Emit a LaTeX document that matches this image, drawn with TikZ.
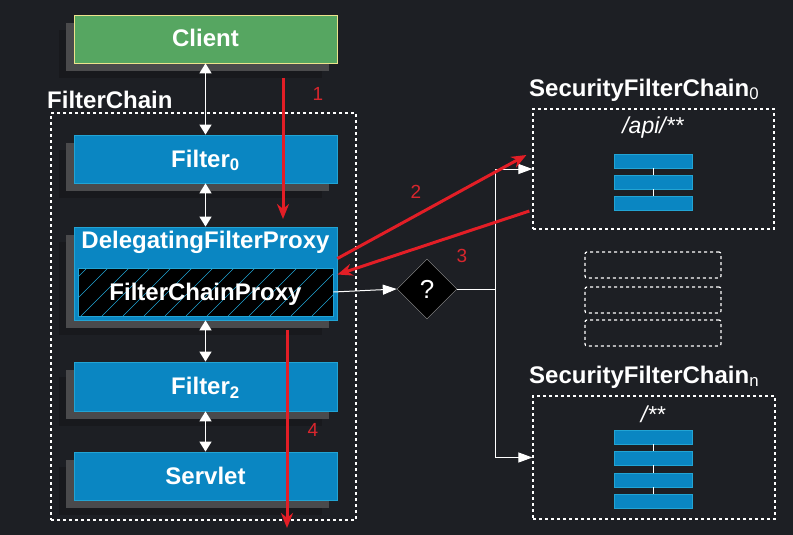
\documentclass[tikz,border=0pt]{standalone}
\usepackage{fontspec}
\setmainfont{Liberation Sans}
\usetikzlibrary{arrows.meta,shapes.geometric,shadows,positioning}
\definecolor{bgdark}{HTML}{1D1F24}
\definecolor{farshade}{HTML}{18191D}
\definecolor{nearshade}{HTML}{4A4A4C}
\definecolor{clientgreen}{HTML}{56A661}
\definecolor{clientline}{HTML}{EDE38C}
\definecolor{filterblue}{HTML}{0A86C2}
\definecolor{filterline}{HTML}{22A4D4}
\definecolor{flowred}{HTML}{E31E26}
\definecolor{numred}{HTML}{D8262D}
\tikzset{
    basic/.style  = {rectangle, draw, line width=0.8pt, inner sep=0pt, text height=20pt, text depth=4pt, text=white, font=\bfseries\fontsize{24}{28}\selectfont},
    boxshade/.style = {general shadow={shadow xshift=-15pt, shadow yshift=-15pt, fill=farshade, draw=none},
                       general shadow={shadow xshift=-8pt, shadow yshift=-8pt, fill=nearshade, draw=none}},
    client/.style = {basic, boxshade, fill=clientgreen, draw=clientline, minimum width=263pt, minimum height=48pt},
    filter/.style = {basic, boxshade, fill=filterblue, draw=filterline, minimum width=263pt, minimum height=48pt},
    proxybox/.style = {basic, fill=black, draw=filterline, minimum width=255pt, minimum height=48pt,
        path picture={
            \foreach \i in {-60,-39,...,270}
                \draw[filterline, line width=0.7pt] ([xshift=\i pt]path picture bounding box.south west) -- ++(48pt,48pt);
        }},
    dashbox/.style = {rectangle, draw=white, line width=1.2pt, dash pattern=on 3pt off 3pt, inner sep=0pt},
    bar/.style    = {rectangle, fill=filterblue, draw=filterline, line width=0.8pt, minimum width=78pt, minimum height=14pt, inner sep=0pt},
    title/.style  = {anchor=base west, inner sep=0pt, text=white, font=\bfseries\fontsize{24}{28}\selectfont},
    pattern/.style = {inner sep=0pt, text=white, font=\itshape\fontsize{23}{26}\selectfont},
    num/.style    = {inner sep=0pt, text=numred, font=\fontsize{19}{22}\selectfont},
    dbl/.style    = {{Triangle[width=12pt,length=10pt]}-{Triangle[width=12pt,length=10pt]}, draw=white, line width=1.5pt},
    route/.style  = {-{Triangle[width=10pt,length=14pt]}, draw=white, line width=1pt},
    flow/.style   = {-{Stealth[length=15pt,width=12pt]}, draw=flowred, line width=3pt}
}
\begin{document}
\begin{tikzpicture}[x=1pt, y=-1pt]
    \fill[bgdark] (0,0) rectangle (793,535);
    \useasboundingbox (0,0) rectangle (793,535);

    % filter chain
    \node[dashbox, minimum width=305pt, minimum height=407pt] (chain) at (203.5,316.5) {};
    \node[title] (chaintitle) at (47,108) {FilterChain};

    \node[client] (client) at (205.5,39) {Client};
    \node[filter] (filter0) at (205.5,159) {Filter\textsubscript{0}};
    \node[filter, minimum height=93pt] (delegating) at (205.5,273.5) {};
    \node[basic, draw=none] (dfptext) at (205.5,240) {DelegatingFilterProxy};
    \node[proxybox] (fcproxy) at (205.5,292) {FilterChainProxy};
    \node[filter, minimum height=49pt] (filter2) at (205.5,386.5) {Filter\textsubscript{2}};
    \node[filter] (servlet) at (205.5,476) {Servlet};

    \draw[dbl] (client) -- (filter0);
    \draw[dbl] (filter0) -- (delegating);
    \draw[dbl] (delegating) -- (filter2);
    \draw[dbl] (filter2) -- (servlet);

    % decision
    \node[diamond, draw=gray!80, fill=black, minimum size=60pt, inner sep=0pt, text=white,
          font=\fontsize{26}{28}\selectfont] (decide) at (427,289) {?};
    \coordinate (split) at (495,289);
    \draw[route] (fcproxy.east) -- (decide.west);
    \draw[white, line width=1pt] (decide.east) -- (split);

    % security filter chains
    \node[title] (sfc0title) at (529,96) {SecurityFilterChain\textsubscript{\mdseries 0}};
    \node[dashbox, minimum width=241pt, minimum height=120pt] (sfc0) at (653.5,169) {};
    \node[pattern] (api) at (653,128) {/api/**};
    \foreach \n/\y in {1/161,2/182,3/203}
        \node[bar] (bar0\n) at (653,\y) {};
    \draw[white, line width=0.8pt] (bar01.south) -- (bar02.north) (bar02.south) -- (bar03.north);

    \foreach \n/\y in {1/265,2/300,3/333}
        \node[dashbox, rounded corners=2pt, minimum width=136pt, minimum height=26pt] (more\n) at (653,\y) {};

    \node[title] (sfcntitle) at (529,383) {SecurityFilterChain\textsubscript{\mdseries n}};
    \node[dashbox, minimum width=242pt, minimum height=123pt] (sfcn) at (654,457.5) {};
    \node[pattern] (any) at (653,414) {/**};
    \foreach \n/\y in {1/437,2/458,3/480,4/501}
        \node[bar] (barn\n) at (653,\y) {};
    \draw[white, line width=0.8pt] (barn1.south) -- (barn2.north) (barn2.south) -- (barn3.north) (barn3.south) -- (barn4.north);

    \draw[route] (split) |- (sfc0.west);
    \draw[route] (split) |- (sfcn.west);

    % request flow
    \coordinate (in1) at (283,78);
    \coordinate (in2) at (283,219);
    \coordinate (out1) at (287,330);
    \coordinate (out2) at (287,528);
    \draw[flow] (in1) -- (in2);
    \draw[flow] ([yshift=15pt]delegating.east) -- ([xshift=-6pt,yshift=14pt]sfc0.west);
    \draw[flow] ([xshift=-3pt,yshift=-42pt]sfc0.west) -- ([yshift=-1pt]delegating.east);
    \draw[flow] (out1) -- (out2);
    \node[num] (n1) at (318,94) {1};
    \node[num] (n2) at (416,192) {2};
    \node[num] (n3) at (462,256) {3};
    \node[num] (n4) at (313,430) {4};
\end{tikzpicture}
\end{document}
